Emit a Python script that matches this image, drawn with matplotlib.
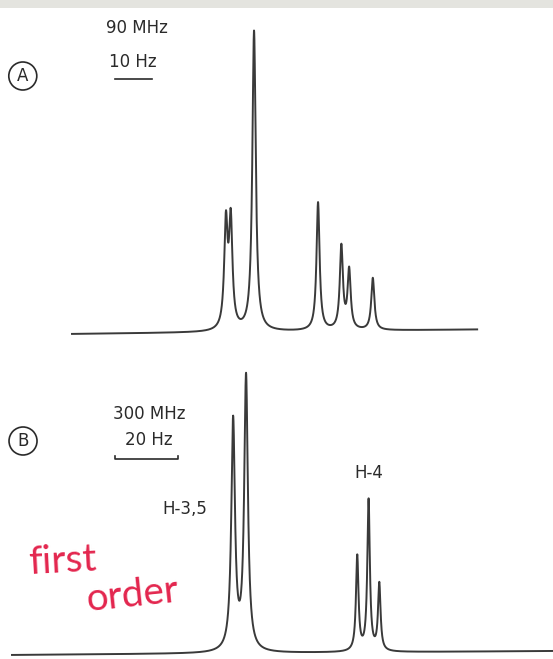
import numpy as np
import matplotlib
matplotlib.use("Agg")
import matplotlib.pyplot as plt
from matplotlib.patches import Rectangle

# ---------------- data ----------------
# Spectrum A, 90 MHz: peak positions (Hz, relative), heights (arb.), half-widths (Hz)
A_pos = [41.6, 42.9, 49.2, 66.5, 72.8, 74.9, 81.3]
A_height = [104, 106, 300, 128, 83, 59, 52]
A_hwhm = [0.55, 0.55, 0.55, 0.5, 0.5, 0.5, 0.5]
A_range = [0.0, 109.5]          # Hz span of recorded trace
A_baseline = [-4.0, 0.5]        # baseline drift at start / end of trace

# Spectrum B, 300 MHz: H-3,5 doublet and H-4 triplet
B_pos = [70.2, 74.3, 109.6, 113.2, 116.6]
B_height = [230, 274, 95, 151, 67]
B_hwhm = [0.70, 0.70, 0.48, 0.48, 0.48]
B_range = [0.0, 172.0]
B_baseline = [-2.0, 2.0]

scale_A_hz = 10
scale_B_hz = 20
labels = {"A": ("90 MHz", "10 Hz"), "B": ("300 MHz", "20 Hz")}
peak_labels_B = ["H-3,5", "H-4"]
note = ["first", "order"]


def spectrum(x, pos, hgt, hw):
    y = np.zeros_like(x)
    for p, h, g in zip(pos, hgt, hw):
        y += h * g**2 / (g**2 + (x - p) ** 2)
    return y


W, H = 553, 659
fig = plt.figure(figsize=(W / 100, H / 100), dpi=100)
fig.patch.set_facecolor("white")
fig.patches.append(Rectangle((0, 1 - 8 / H), 1, 8 / H, transform=fig.transFigure,
                             facecolor="#e4e4df", edgecolor="none", zorder=0))

line_kw = dict(color="#3a3a3a", lw=1.4, solid_joinstyle="round")
txt_kw = dict(color="#2a2a2a", family="DejaVu Sans", fontsize=12)
circ_kw = dict(ha="center", va="center", fontsize=12, color="#2a2a2a",
               bbox=dict(boxstyle="circle,pad=0.3", fc="white", ec="#2a2a2a", lw=1.2))
note_kw = dict(ha="left", va="center", color="#e3264e", fontsize=28,
               family=["Lato", "DejaVu Sans"], fontweight="normal")

# ---------------- panel A ----------------
pxA = 3.7   # px per Hz
axA = fig.add_axes([0, 1 - 340 / H, 1, 332 / H])
axA.set_xlim(-72 / pxA, (W - 72) / pxA)
axA.set_ylim(-10, 322)
xA = np.linspace(A_range[0], A_range[1], 6000)
yA = spectrum(xA, A_pos, A_height, A_hwhm) + np.interp(xA, A_range, A_baseline)
axA.plot(xA, yA, **line_kw)
axA.text(17.6, 302, labels["A"][0], ha="center", va="center", **txt_kw)
axA.text(16.4, 268, labels["A"][1], ha="center", va="center", **txt_kw)
axA.plot([11.6, 11.6 + scale_A_hz], [251, 251], color="#2a2a2a", lw=1.2)
axA.text(-13.3, 254, "A", **circ_kw)
axA.axis("off")

# ---------------- panel B ----------------
pxB = 3.15
axB = fig.add_axes([0, 0, 1, 319 / H])
axB.set_xlim(-12 / pxB, (W - 12) / pxB)
axB.set_ylim(-6, 313)
xB = np.linspace(B_range[0], B_range[1], 8000)
yB = spectrum(xB, B_pos, B_height, B_hwhm) + np.interp(xB, B_range, B_baseline)
axB.plot(xB, yB, **line_kw)
axB.text(43.6, 239, labels["B"][0], ha="center", va="center", **txt_kw)
axB.text(43.5, 213, labels["B"][1], ha="center", va="center", **txt_kw)
b0 = 32.7
axB.plot([b0, b0, b0 + scale_B_hz, b0 + scale_B_hz], [197, 194, 194, 197],
         color="#2a2a2a", lw=1.2)
axB.text(3.5, 212, "B", **circ_kw)
axB.text(55.0, 144, peak_labels_B[0], ha="center", va="center", **txt_kw)
axB.text(113.4, 180, peak_labels_B[1], ha="center", va="center", **txt_kw)
axB.text(5.0, 92, note[0], rotation=3, **note_kw)
axB.text(23.0, 58, note[1], rotation=6, **note_kw)
axB.axis("off")

fig.savefig("out.png", dpi=100, facecolor="white")
